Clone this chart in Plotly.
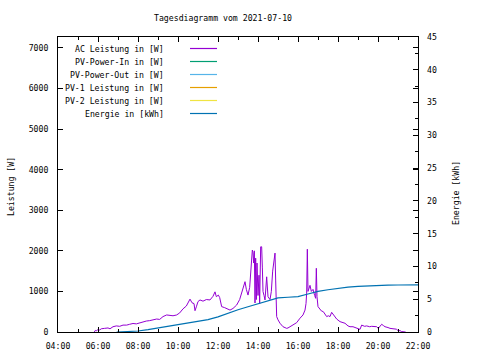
import plotly.graph_objects as go

DAY = "2021-07-10"

ac_times = ["05:49","05:52","05:55","06:00","06:05","06:10","06:20","06:30","06:36","06:45","06:55",
            "07:05","07:15","07:26","07:35","07:45","07:55","08:05","08:15","08:25","08:35","08:45",
            "08:56","09:05","09:15","09:26","09:35","09:45","09:56","10:05","10:15","10:25","10:36",
            "10:42","10:48","10:51","10:55","11:00","11:06","11:15","11:25","11:36","11:45","11:51",
            "11:55","12:01","12:05","12:11","12:20","12:30","12:36","12:45","12:56","13:05","13:15",
            "13:21","13:25","13:30","13:35","13:41","13:43","13:45","13:47","13:49","13:51","13:53",
            "13:55","13:57","14:00","14:03","14:05","14:08","14:11","14:13","14:15","14:18","14:21",
            "14:26","14:30","14:36","14:40","14:44","14:48","14:51","14:53","14:56","15:00","15:06",
            "15:15","15:26","15:30","15:36","15:46","15:56","16:06","16:15","16:21","16:24","16:26",
            "16:28","16:30","16:33","16:36","16:40","16:45","16:50","16:53","16:55","16:57","17:00",
            "17:05","17:10","17:16","17:21","17:26","17:31","17:36","17:41","17:46","17:51","17:56",
            "18:06","18:15","18:21","18:30","18:36","18:45","18:51","19:00","19:06","19:11","19:20",
            "19:26","19:35","19:41","19:50","19:56","20:01","20:06","20:11","20:16","20:21","20:30",
            "20:36","20:45","20:51","20:55","21:01","21:06","21:11","21:21","21:23"]
ac_watts = [0,40,30,60,50,80,90,100,80,130,150,
            140,170,170,190,210,200,230,250,270,280,300,
            320,310,380,420,410,400,420,470,570,640,810,
            720,700,525,620,750,790,760,800,790,880,990,
            870,910,850,625,600,560,540,580,665,800,1120,
            1240,1050,910,1100,1700,2020,1950,1700,2000,715,1820,
            800,1700,900,1400,700,2100,2100,1600,1000,900,790,
            1360,870,800,1000,1500,1855,1945,1280,380,300,215,
            130,90,100,130,170,230,340,420,540,700,960,
            2040,1000,1075,1150,1000,1050,900,830,1570,870,625,
            560,520,500,430,380,400,380,485,430,360,320,
            255,230,215,150,130,130,115,80,65,170,140,
            150,130,140,130,130,90,130,190,160,130,110,
            90,80,65,70,30,35,10,0,0]

energy_times = ["06:56","07:30","08:00","08:30","09:00","09:30","10:00","10:30","11:00","11:30",
                "12:00","12:30","13:00","13:30","14:00","14:30","15:00","15:30","16:00","16:30",
                "17:00","17:30","18:00","18:30","19:00","19:30","20:00","20:30","21:00","21:30","22:00"]
energy_kwh = [0,0.05,0.15,0.35,0.6,0.85,1.1,1.35,1.55,1.9,
              2.3,2.9,3.4,3.85,4.3,4.85,5.2,5.3,5.4,5.8,
              6.2,6.45,6.7,6.85,6.95,7.05,7.1,7.15,7.17,7.18,7.18]

legend_labels = ["AC Leistung in [W]", "PV-Power-In in [W]", "PV-Power-Out in [W]",
                 "PV-1 Leistung in [W]", "PV-2 Leistung in [W]", "Energie in [kWh]"]
legend_colors = ["#9400d3", "#009e73", "#56b4e9", "#e69f00", "#f0e442", "#0072b2"]

x_ticks = ["04:00","06:00","08:00","10:00","12:00","14:00","16:00","18:00","20:00","22:00"]
y_ticks = [0,1000,2000,3000,4000,5000,6000,7000]
y2_ticks = [0,5,10,15,20,25,30,35,40,45]

FONT = "DejaVu Sans Mono"
FS = 8.2

fig = go.Figure()
fig.add_trace(go.Scatter(x=[f"{DAY} {t}" for t in ac_times], y=ac_watts, mode="lines",
                         line=dict(color=legend_colors[0], width=1), showlegend=False))
fig.add_trace(go.Scatter(x=[f"{DAY} {t}" for t in energy_times], y=energy_kwh, mode="lines",
                         line=dict(color=legend_colors[5], width=1.2), yaxis="y2", showlegend=False))

W, H = 480, 360
L, R, T, B = 58, 418, 37, 332
pw, ph = R - L, B - T

def px(x):
    return (x - L) / pw
def py(y):
    return (B - y) / ph

annotations = [
    dict(text="Tagesdiagramm vom 2021-07-10", x=px(223), y=py(18), xref="paper", yref="paper",
         showarrow=False, font=dict(family=FONT, size=FS, color="black"), xanchor="center", yanchor="middle"),
    dict(text="Leistung [W]", x=px(11), y=py(187), xref="paper", yref="paper", textangle=-90,
         showarrow=False, font=dict(family=FONT, size=FS, color="black"), xanchor="center", yanchor="middle"),
    dict(text="Energie [kWh]", x=px(456), y=py(193), xref="paper", yref="paper", textangle=-90,
         showarrow=False, font=dict(family=FONT, size=FS, color="black"), xanchor="center", yanchor="middle"),
]
shapes = []
row_y = [48.5, 61.5, 74.5, 87.5, 100.5, 113.5]
for lab, col, yy in zip(legend_labels, legend_colors, row_y):
    annotations.append(dict(text=lab, x=px(166), y=py(yy), xref="paper", yref="paper", showarrow=False,
                            font=dict(family=FONT, size=FS, color="black"), xanchor="right", yanchor="middle"))
    shapes.append(dict(type="line", xref="paper", yref="paper", x0=px(190), x1=px(217),
                       y0=py(yy), y1=py(yy), line=dict(color=col, width=1.2)))

fig.update_layout(
    width=W, height=H,
    margin=dict(l=L, r=W - R, t=T, b=H - B, pad=0, autoexpand=False),
    paper_bgcolor="white", plot_bgcolor="white",
    font=dict(family=FONT, size=FS, color="black"),
    annotations=annotations, shapes=shapes, showlegend=False,
    xaxis=dict(type="date", range=[f"{DAY} 04:00", f"{DAY} 22:00"], automargin=False,
               tickvals=[f"{DAY} {t}" for t in x_ticks], ticktext=x_ticks,
               ticks="inside", ticklen=5, tickcolor="black", showgrid=False, zeroline=False,
               showline=True, linecolor="black", linewidth=1, mirror="ticks", ticklabelstandoff=6,
               minor=dict(ticks="inside", ticklen=3, tickcolor="black", dtick=3600000,
                          tick0=f"{DAY} 04:00", showgrid=False),
               tickfont=dict(family=FONT, size=FS, color="black")),
    yaxis=dict(range=[0, 7270], tickvals=y_ticks, ticks="inside", ticklen=5, tickcolor="black",
               automargin=False,
               showgrid=False, zeroline=False, showline=True, linecolor="black", linewidth=1,
               mirror="ticks", tickfont=dict(family=FONT, size=FS, color="black"), ticklabelstandoff=7),
    yaxis2=dict(range=[0, 45], tickvals=y2_ticks, overlaying="y", side="right", ticks="inside",
                automargin=False,
                ticklen=5, tickcolor="black", showgrid=False, zeroline=False, showline=False,
                tickfont=dict(family=FONT, size=FS, color="black"), ticklabelstandoff=8,
                minor=dict(ticks="inside", ticklen=3, tickcolor="black", dtick=2.5)),
)

fig.write_html("out.html", config={"displayModeBar": False},
               post_script="document.body.style.margin='0px';document.body.style.overflow='hidden';")
